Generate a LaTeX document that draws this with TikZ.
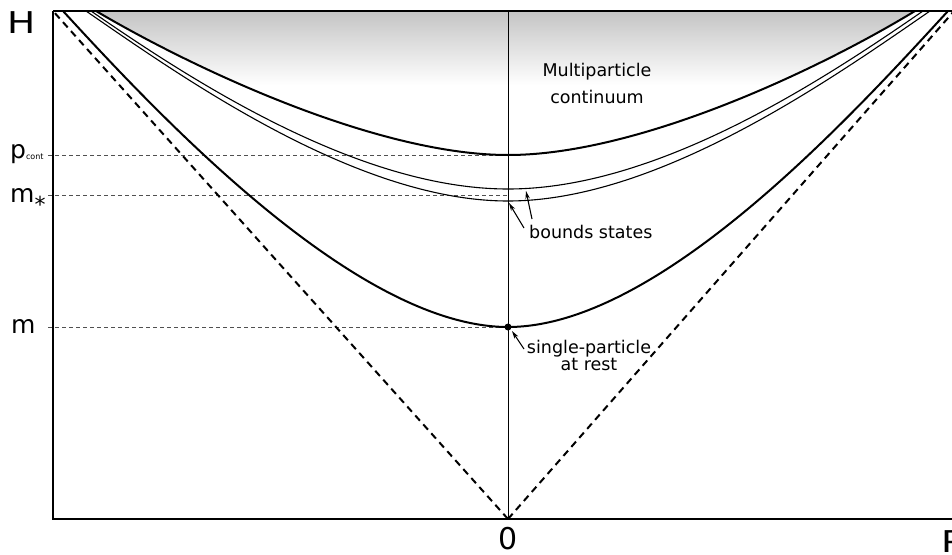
\documentclass[tikz,border=0pt]{standalone}
\usepackage{fontspec}
\setmainfont{DejaVu Sans}
\usetikzlibrary{arrows.meta}
\definecolor{shadetop}{RGB}{196,196,196}
\definecolor{guide}{RGB}{80,80,80}
\begin{document}
\begin{tikzpicture}[x=1pt,y=-1pt,
  thickcurve/.style={line width=2pt},
  thincurve/.style={line width=1.1pt},
  axisline/.style={line width=2pt},
  cone/.style={line width=2pt, dash pattern=on 7pt off 5pt},
  guideline/.style={guide, line width=0.8pt, dash pattern=on 4pt off 3pt},
  pointer/.style={line width=1.1pt, -{Stealth[length=8pt,width=4.5pt]}},
  body/.style={font=\fontsize{17.5}{27}\selectfont, inner sep=0pt},
  biglbl/.style={font=\fontsize{30}{30}\selectfont, inner sep=0pt},
  lvl/.style={font=\fontsize{25}{25}\selectfont, inner sep=0pt},
]
\useasboundingbox (0,0) rectangle (952,554);

% key coordinates
\coordinate (O) at (508,519);
\coordinate (TL) at (53,11);
\coordinate (BL) at (53,519);
\coordinate (TR) at (952,11);
\coordinate (BR) at (952,519);
\coordinate (Otop) at (508,11);
\coordinate (coneL) at (53,11);
\coordinate (coneR) at (955,10);

% shaded multiparticle continuum
\begin{scope}
\clip (96,11) .. controls (196,70) and (378,155) .. (508,155)
      .. controls (638,155) and (818,70) .. (915,11) -- cycle;
\shade[top color=shadetop, bottom color=white] (53,11) rectangle (952,85);
\end{scope}

% guide lines
\coordinate (pcL) at (48,155); \coordinate (pcR) at (508,155);
\coordinate (msL) at (48,195); \coordinate (msR) at (508,195);
\coordinate (mL) at (48,327);  \coordinate (mR) at (508,327);
\draw[guideline] (pcL) -- (pcR);
\draw[guideline] (msL) -- (msR);
\draw[guideline] (mL) -- (mR);

% vertical line at P=0
\draw[line width=0.9pt] (Otop) -- (O);

% light cone
\draw[cone] (O) -- (coneL);
\draw[cone] (O) -- (coneR);

% single-particle hyperbola
\draw[thickcurve] (63,11) .. controls (163,120) and (358,327) .. (508,327)
      .. controls (658,327) and (848,120) .. (948,11);
% continuum threshold
\draw[thickcurve] (96,11) .. controls (196,70) and (378,155) .. (508,155)
      .. controls (638,155) and (818,70) .. (915,11);
% bound states
\draw[thincurve] (91,11) .. controls (191,80) and (358,189) .. (508,189)
      .. controls (658,189) and (823,80) .. (923,11);
\draw[thincurve] (86,11) .. controls (186,80) and (358,201) .. (508,201)
      .. controls (658,201) and (830,80) .. (930,11);

% axes and frame
\draw[axisline] (TL) -- (BL) -- (BR);
\draw[axisline] (TL) -- (TR);

% single particle at rest
\node[circle, fill=black, inner sep=0pt, minimum size=7pt] (rest) at (508,327) {};

% pointers
\coordinate (bsTailA) at (524,228); \coordinate (bsHeadA) at (509,203);
\coordinate (bsTailB) at (532,219); \coordinate (bsHeadB) at (526,191);
\coordinate (spTail) at (524,349);  \coordinate (spHead) at (512,331);
\draw[pointer] (bsTailA) -- (bsHeadA);
\draw[pointer] (bsTailB) -- (bsHeadB);
\draw[pointer] (spTail) -- (spHead);

% labels
\node[body, align=center] (mc) at (597,83) {Multiparticle\\continuum};
\node[body, anchor=base west] (bs) at (529,238) {bounds states};
\node[body, align=center, font=\fontsize{17.5}{17}\selectfont] (sp) at (589,355) {single-particle\\at rest};

\node[biglbl, anchor=base west] (H) at (7,33) {\scalebox{1.25}[1]{H}};
\node[biglbl, anchor=base] (zero) at (508,549) {0};
\node[biglbl, anchor=base west] (P) at (941,552) {\scalebox{1.25}[1]{P}};

\node[lvl, anchor=base west] (pc) at (10,158) {p\raisebox{-1pt}{\fontsize{8}{8}\selectfont cont}};
\node[lvl, anchor=base west] (ms) at (10,202) {m\raisebox{-10pt}{\fontsize{22}{22}\selectfont *}};
\node[lvl, anchor=base west] (mm) at (11,333) {m};
\end{tikzpicture}
\end{document}
